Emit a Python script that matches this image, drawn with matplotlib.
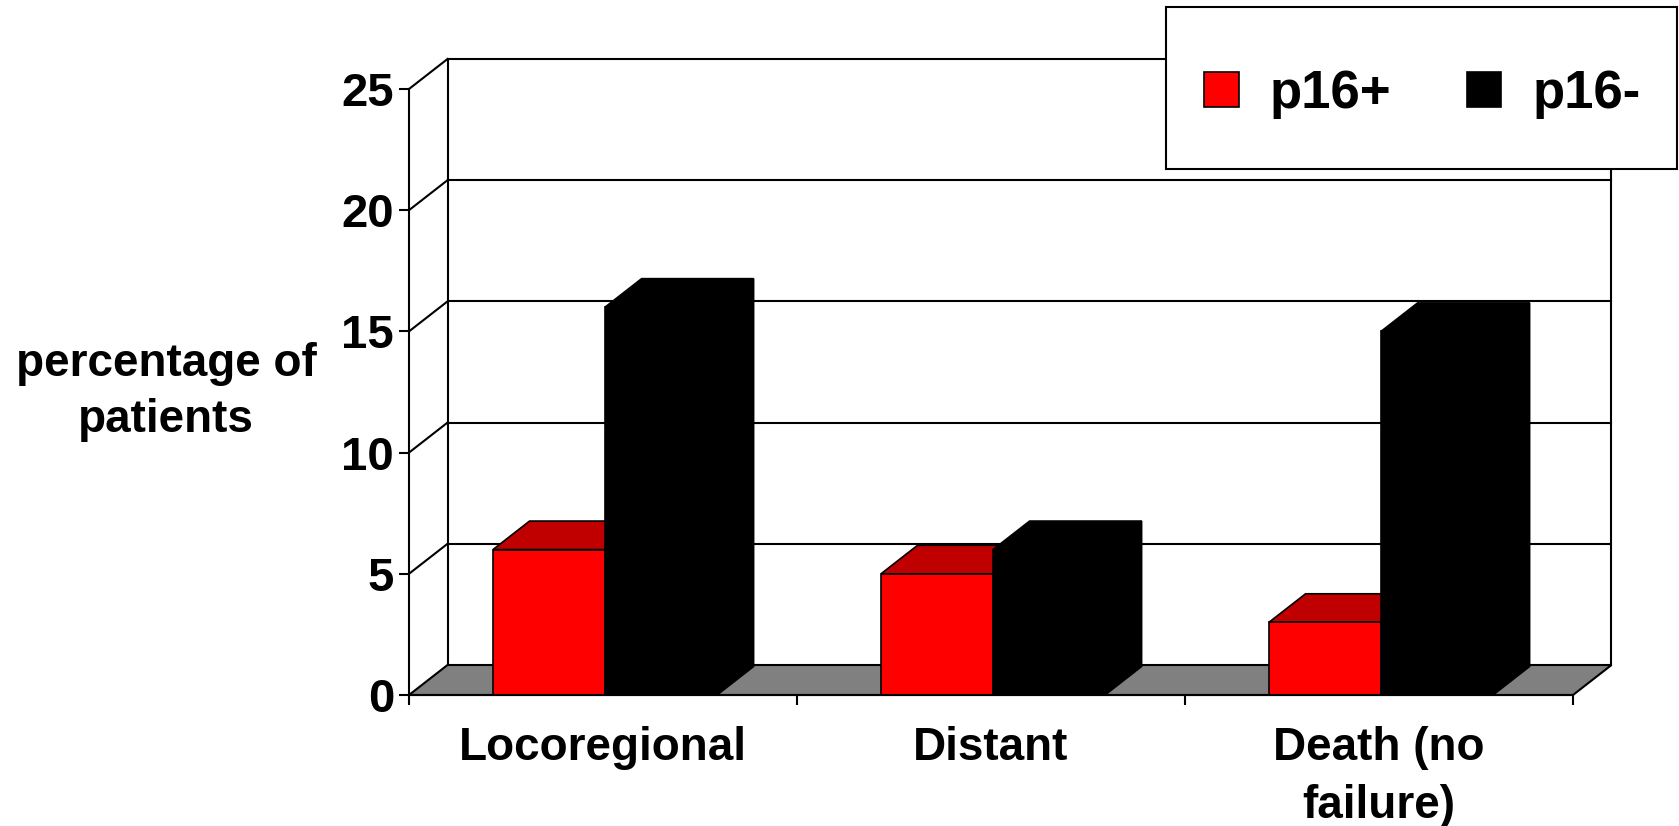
import matplotlib
matplotlib.use('Agg')
import matplotlib.pyplot as plt
from matplotlib.patches import Polygon, Rectangle, Patch

plt.rcParams['font.family'] = ['Liberation Sans', 'DejaVu Sans']
plt.rcParams['font.weight'] = 'bold'

# ---- data ----
categories = ['Locoregional', 'Distant', 'Death (no\nfailure)']
series_names = ['p16+', 'p16-']
p16_pos = [6, 5, 3]
p16_neg = [16, 6, 15]
y_ticks = [0, 5, 10, 15, 20, 25]
y_label = 'percentage of\npatients'

# ---- style ----
front_colors = ['#FF0000', '#000000']
top_colors = ['#C00000', '#000000']
side_colors = ['#800000', '#000000']
floor_color = '#808080'

W, H = 1679, 826
fig = plt.figure(figsize=(W / 100, H / 100), dpi=100)
fig.patch.set_facecolor('white')
ax = fig.add_axes([409 / W, 1 - 695 / H, 1164 / W, 606 / H])
ax.set_xlim(0, len(categories))
ax.set_ylim(0, 25)
ax.patch.set_visible(False)

ncat = len(categories)
DX = 38.5 / 388.0      # depth offset in category units
DY = 30.0 / 24.24      # depth offset in value units
DEPTH = 0.95
BAR_OFF = 0.2165
BAR_W = 0.2887
LW = 1.5

# back wall gridlines + side wall gridlines
for v in y_ticks[1:]:
    ax.plot([DX, ncat + DX], [v + DY, v + DY], color='black', lw=LW,
            clip_on=False, zorder=1, solid_capstyle='projecting')
    ax.plot([0, DX], [v, v + DY], color='black', lw=LW, clip_on=False, zorder=1)
# wall vertical edges
ax.plot([DX, DX], [DY, y_ticks[-1] + DY], color='black', lw=LW, clip_on=False, zorder=1)
ax.plot([ncat + DX, ncat + DX], [DY, y_ticks[-1] + DY], color='black', lw=LW,
        clip_on=False, zorder=1)
# floor
ax.add_patch(Polygon([(0, 0), (ncat, 0), (ncat + DX, DY), (DX, DY)], closed=True,
                     fc=floor_color, ec='black', lw=LW, clip_on=False, zorder=2,
                     joinstyle='miter'))

# bars
z = 3
series = [p16_pos, p16_neg]
for i in range(ncat):
    for s, vals in enumerate(series):
        v = vals[i]
        x0 = i + BAR_OFF + s * BAR_W
        x1 = x0 + BAR_W
        ddx, ddy = DX * DEPTH, DY * DEPTH
        side = [(x1, 0), (x1 + ddx, ddy), (x1 + ddx, v + ddy), (x1, v)]
        top = [(x0, v), (x1, v), (x1 + ddx, v + ddy), (x0 + ddx, v + ddy)]
        front = [(x0, 0), (x1, 0), (x1, v), (x0, v)]
        for poly, col in ((side, side_colors[s]), (top, top_colors[s]),
                          (front, front_colors[s])):
            ax.add_patch(Polygon(poly, closed=True, fc=col, ec='black', lw=1.2,
                                 clip_on=False, zorder=z, joinstyle='miter'))
        z += 0.1

# axes / spines
for sp in ('top', 'right'):
    ax.spines[sp].set_visible(False)
ax.spines['left'].set_linewidth(LW)
ax.spines['bottom'].set_linewidth(LW)
ax.spines['left'].set_zorder(10)
ax.spines['bottom'].set_zorder(10)

ax.set_yticks(y_ticks)
ax.set_yticklabels([str(t) for t in y_ticks])
ax.tick_params(axis='y', direction='out', length=7.2, width=LW, pad=3.6,
               labelsize=34)

ax.set_xticks(range(ncat + 1))
ax.set_xticklabels([''] * (ncat + 1))
ax.tick_params(axis='x', which='major', direction='out', length=7.2, width=LW)
ax.set_xticks([i + 0.5 for i in range(ncat)], labels=categories, minor=True,
              linespacing=1.4)
ax.tick_params(axis='x', which='minor', length=0, pad=22.3, labelsize=33)

ax.set_ylabel(y_label, rotation=0, ha='center', va='center', fontsize=33,
              fontweight='bold', linespacing=1.33)
ax.yaxis.set_label_coords((166 - 409) / 1164, 0.5)

# legend frame
fig.add_artist(Rectangle((1166 / W, 1 - 169 / H), 511 / W, 162 / H,
                         transform=fig.transFigure, fc='white', ec='black',
                         lw=1.5, zorder=5))
handles = [Patch(fc=front_colors[0], ec='black', lw=1.2),
           Patch(fc=front_colors[1], ec='black', lw=1.2)]
leg = fig.legend(handles, series_names, loc='center left',
                 bbox_to_anchor=(1204 / W, 1 - 94 / H), ncol=2, frameon=False,
                 prop={'size': 38, 'weight': 'bold'}, handlelength=0.66,
                 handleheight=0.66, handletextpad=0.59, columnspacing=1.42,
                 borderpad=0, borderaxespad=0)
leg.set_zorder(6)

fig.savefig('out.png', dpi=100, facecolor='white')
